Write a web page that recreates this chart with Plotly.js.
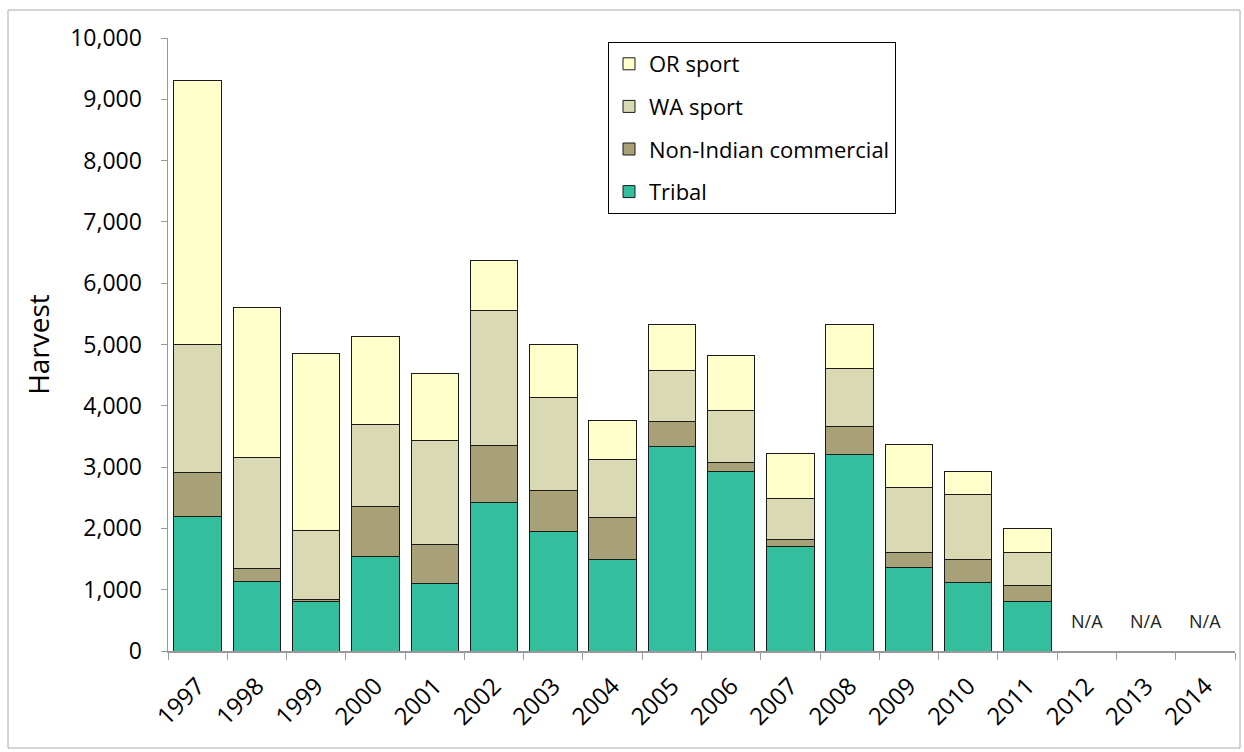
<!DOCTYPE html>
<html>
<head>
<meta charset="utf-8">
<script src="https://cdn.plot.ly/plotly-3.0.1.min.js"></script>
<style>
  html, body { margin: 0; padding: 0; background: #fff; }
  #chart { width: 1244px; height: 752px; }
</style>
</head>
<body>
<div id="chart"></div>
<script>
// Harvest by fishery, 1997-2014
const years = ['1997','1998','1999','2000','2001','2002','2003','2004','2005',
               '2006','2007','2008','2009','2010','2011','2012','2013','2014'];
const tribal     = [2200, 1140,  810, 1545, 1100, 2420, 1945, 1495, 3330, 2925, 1700, 3200, 1370, 1120,  815, null, null, null];
const nonIndian  = [ 720,  200,   30,  810,  645,  925,  680,  685,  415,  150,  115,  460,  230,  370,  250, null, null, null];
const waSport    = [2080, 1820, 1120, 1335, 1695, 2205, 1505,  950,  825,  845,  680,  955, 1075, 1065,  545, null, null, null];
const orSport    = [4300, 2450, 2890, 1435, 1095,  825,  870,  635,  760,  895,  730,  705,  690,  380,  390, null, null, null];
const naYears    = ['2012','2013','2014'];
const naText     = 'N/A';

const W = 1244, H = 752;
const M = {l: 168, r: 9, t: 38, b: 101};
const plotW = W - M.l - M.r, plotH = H - M.t - M.b;
const px2x = px => (px - M.l) / plotW;
const px2y = py => (H - M.b - py) / plotH;

const lineStyle = {color: '#1a1a1a', width: 1};
const series = [
  {name: 'Tribal', y: tribal, color: '#33BF9E'},
  {name: 'Non-Indian commercial', y: nonIndian, color: '#A8A076'},
  {name: 'WA sport', y: waSport, color: '#D9D9B4'},
  {name: 'OR sport', y: orSport, color: '#FFFFCC'}
];

const traces = series.map((s, i) => ({
  type: 'bar',
  x: years,
  y: s.y,
  name: s.name,
  legendgroup: 'g' + i,
  legendrank: series.length - i,
  marker: {color: s.color, line: lineStyle},
  hoverinfo: 'x+y+name'
}));

const family = '"Open Sans", Lato, sans-serif';

const layout = {
  width: W, height: H,
  margin: M,
  paper_bgcolor: '#fff',
  plot_bgcolor: '#fff',
  barmode: 'stack',
  bargap: 0.2,
  showlegend: true,
  font: {family: family, color: '#000'},
  legend: {
    x: px2x(608), y: px2y(42), xanchor: 'left', yanchor: 'top',
    bgcolor: '#fff', bordercolor: '#000', borderwidth: 1,
    traceorder: 'grouped', tracegroupgap: 11,
    font: {family: family, size: 22, color: '#000'}
  },
  xaxis: {
    type: 'category',
    categoryorder: 'array',
    categoryarray: years,
    range: [-0.5, years.length - 0.5],
    tickangle: -45,
    tickson: 'boundaries',
    ticks: 'outside', ticklen: 7, tickcolor: '#999', tickwidth: 1,
    ticklabelstandoff: 10,
    showline: true, linecolor: '#999', linewidth: 1.5,
    showgrid: false, zeroline: false,
    tickfont: {family: family, size: 24, color: '#000'},
    fixedrange: true
  },
  yaxis: {
    range: [0, 10000], dtick: 1000, tickformat: ',d',
    ticks: 'outside', ticklen: 6, tickcolor: '#999', tickwidth: 1,
    ticklabelstandoff: 14,
    showline: true, linecolor: '#999', linewidth: 1.5,
    showgrid: false, zeroline: false,
    tickfont: {family: family, size: 23, color: '#000'},
    title: {text: 'Harvest', font: {family: family, size: 28, color: '#000'}, standoff: 12},
    fixedrange: true
  },
  // category axes place annotations by category index
  annotations: naYears.map(yr => ({
    x: years.indexOf(yr), y: 490, xref: 'x', yref: 'y',
    text: naText, showarrow: false,
    font: {family: family, size: 18, color: '#222'}
  })),
  shapes: [{
    type: 'rect', xref: 'paper', yref: 'paper', layer: 'below',
    x0: px2x(8), x1: px2x(1240), y0: px2y(748), y1: px2y(10),
    line: {color: '#aaa', width: 1}, fillcolor: 'rgba(0,0,0,0)'
  }]
};

Plotly.newPlot('chart', traces, layout, {displayModeBar: false, staticPlot: true});
</script>
</body>
</html>
